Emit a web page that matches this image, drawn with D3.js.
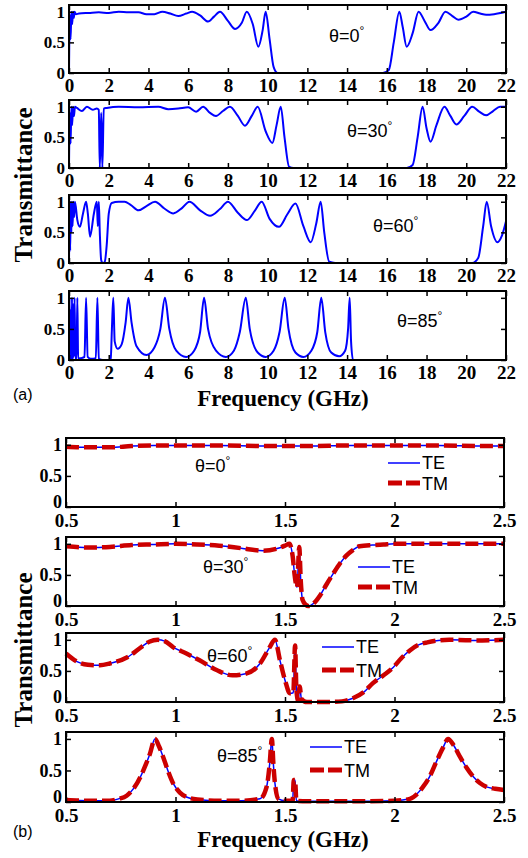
<!DOCTYPE html>
<html>
<head>
<meta charset="utf-8">
<script src="https://cdn.jsdelivr.net/npm/d3@7"></script>
<style>
  body { margin: 0; background: #fff; }
  svg { display: block; }
  .tick text { font-family: "Liberation Serif", "Times New Roman", serif; font-weight: bold; fill: #000; }
  .ann { font-family: "Liberation Sans", Arial, sans-serif; fill: #000; }
</style>
</head>
<body>
<div id="chart"></div>
<script>
// Transmittance vs frequency, panel (a): 0-22 GHz, [GHz, T]
var a0 = [[0,0],[0.04,0.95],[0.08,0.55],[0.12,1],[0.16,0.8],[0.2,1],[0.24,0.9],[0.28,1],[0.35,0.96],[0.5,0.97],[1,0.98],[1.5,0.99],[2,0.98],[2.5,1],[3,0.99],[3.5,0.99],[3.9,0.96],[4.3,0.96],[4.7,1],[5.1,0.97],[5.5,0.93],[5.9,0.97],[6.2,1],[6.6,0.94],[7,0.84],[7.3,0.92],[7.6,1],[8,0.85],[8.36,0.72],[8.7,0.82],[8.95,1],[9.25,0.8],[9.53,0.43],[9.75,0.7],[9.9,1],[10.1,0.55],[10.3,0.1],[10.5,0],[11,0],[12,0],[13,0],[14,0],[15,0],[15.8,0],[16.1,0.05],[16.35,0.5],[16.63,1],[16.8,0.75],[17,0.43],[17.3,0.65],[17.6,1],[17.9,0.85],[18.2,0.7],[18.6,0.82],[18.95,1],[19.3,0.93],[19.6,0.87],[20,0.92],[20.35,1],[20.7,0.97],[21,0.95],[21.4,0.96],[22,1]];
var a30 = [[0,0],[0.04,0.9],[0.08,0.4],[0.12,1],[0.16,0.7],[0.2,1],[0.25,0.85],[0.3,1],[0.4,0.98],[0.65,0.93],[0.9,1],[1.2,0.95],[1.4,0.97],[1.5,0.95],[1.55,0],[1.62,0.9],[1.68,0],[1.75,0.97],[1.9,0.98],[2.5,1],[3.5,0.99],[4.5,1],[5,0.96],[5.5,0.97],[6,0.99],[6.4,0.92],[6.75,1],[7.1,0.9],[7.4,0.85],[7.75,0.93],[8.1,1],[8.5,0.85],[8.86,0.69],[9.2,0.85],[9.5,1],[9.9,0.6],[10.24,0.41],[10.45,0.7],[10.66,1],[10.85,0.5],[11.08,0.02],[11.3,0],[12,0],[14,0],[16,0],[17,0],[17.3,0.05],[17.55,0.5],[17.8,1],[18,0.65],[18.2,0.43],[18.5,0.7],[18.9,1],[19.2,0.85],[19.5,0.71],[19.9,0.85],[20.3,1],[20.65,0.92],[21,0.86],[21.35,0.93],[21.7,1],[22,1]];
var a60 = [[0,0],[0.03,0.8],[0.06,0.2],[0.09,1],[0.12,0.5],[0.15,1],[0.18,0.6],[0.22,1],[0.26,0.75],[0.3,1],[0.42,0.7],[0.55,0.59],[0.7,0.8],[0.86,1],[0.95,0.8],[1.06,0.43],[1.25,0.8],[1.4,1],[1.45,0.6],[1.5,1],[1.55,0.5],[1.62,0.05],[1.7,0],[1.8,0.02],[1.9,0.3],[2,0.8],[2.15,0.98],[2.5,1],[2.8,1],[3.1,0.95],[3.5,0.86],[3.9,0.93],[4.33,1],[4.8,0.89],[5.25,0.81],[5.7,0.9],[6.06,1],[6.6,0.86],[7.1,0.77],[7.6,0.88],[8,1],[8.5,0.82],[8.95,0.7],[9.35,0.85],[9.7,1],[10.1,0.72],[10.57,0.59],[11,0.8],[11.4,0.97],[11.8,0.6],[12.17,0.34],[12.45,0.65],[12.67,1],[12.85,0.5],[13.1,0.02],[13.4,0],[15,0],[17,0],[19,0],[20.3,0],[20.6,0.08],[20.85,0.6],[21.03,1],[21.25,0.6],[21.57,0.34],[21.8,0.45],[22,0.68]];
var a85 = [[0,0],[0.03,1],[0.06,0],[0.09,0.8],[0.12,0],[0.15,1],[0.18,0],[0.21,0.9],[0.24,0.05],[0.28,1],[0.32,0.02],[0.38,0.02],[0.42,1],[0.46,0.02],[0.6,0.03],[0.78,0.05],[0.86,1],[0.94,0.05],[1.1,0.02],[1.35,0.03],[1.43,1],[1.5,0.02],[1.7,0],[2,0],[2.1,0.02],[2.16,0.5],[2.23,1],[2.3,0.3],[2.45,0.18],[2.65,0.25],[2.85,0.6],[2.99,1],[3.15,0.6],[3.4,0.22],[3.9,0.08],[4.3,0.2],[4.6,0.5],[4.83,1],[5.05,0.5],[5.4,0.15],[5.9,0.05],[6.3,0.15],[6.6,0.45],[6.8,1],[7,0.5],[7.4,0.15],[7.9,0.05],[8.3,0.15],[8.6,0.45],[8.9,1],[9.1,0.5],[9.5,0.12],[9.9,0.05],[10.3,0.15],[10.6,0.45],[10.86,1],[11.05,0.5],[11.4,0.12],[11.8,0.05],[12.2,0.15],[12.5,0.45],[12.7,1],[12.9,0.45],[13.2,0.12],[13.6,0.06],[13.9,0.15],[14.05,0.5],[14.13,1],[14.2,0.3],[14.3,0],[16,0],[18,0],[20,0],[22,0]];

// panel (b): 0.5-2.5 GHz, TE and TM overlap
var te0 = [[0.5,0.97],[0.6,0.96],[0.7,0.96],[0.8,0.98],[0.9,0.99],[1,0.99],[1.2,0.99],[1.4,0.98],[1.6,0.98],[1.8,0.99],[2,0.99],[2.2,0.99],[2.4,0.98],[2.5,0.98]];
var te30 = [[0.5,0.96],[0.6,0.94],[0.7,0.95],[0.8,0.98],[0.9,0.99],[1,1],[1.1,0.99],[1.2,0.97],[1.3,0.93],[1.4,0.89],[1.46,0.92],[1.5,0.97],[1.52,1],[1.535,0.8],[1.545,0.47],[1.555,0.3],[1.565,0.95],[1.572,0.4],[1.58,0.1],[1.595,0.02],[1.606,0],[1.63,0.04],[1.66,0.17],[1.69,0.35],[1.72,0.52],[1.75,0.68],[1.78,0.81],[1.81,0.9],[1.84,0.96],[1.9,0.98],[1.95,0.99],[2,1],[2.2,1],[2.5,1]];
var te60 = [[0.5,0.78],[0.55,0.65],[0.6,0.6],[0.655,0.59],[0.7,0.62],[0.78,0.72],[0.85,0.9],[0.88,0.97],[0.92,1],[0.95,0.98],[0.99,0.88],[1.05,0.78],[1.11,0.67],[1.19,0.51],[1.26,0.43],[1.325,0.46],[1.386,0.62],[1.43,0.88],[1.454,1],[1.477,0.67],[1.5,0.35],[1.523,0.14],[1.538,0.15],[1.546,0.91],[1.552,0.2],[1.56,0.02],[1.567,0.25],[1.575,0.05],[1.6,0],[1.7,0],[1.76,0.01],[1.81,0.06],[1.86,0.16],[1.9,0.3],[1.95,0.43],[1.995,0.56],[2.03,0.7],[2.07,0.83],[2.11,0.92],[2.15,0.96],[2.2,0.99],[2.25,1],[2.4,0.99],[2.5,1]];
var te85 = [[0.5,0.03],[0.6,0.02],[0.7,0.02],[0.74,0.05],[0.777,0.1],[0.81,0.22],[0.84,0.4],[0.865,0.6],[0.883,0.76],[0.906,1],[0.925,0.88],[0.944,0.71],[0.965,0.5],[0.99,0.29],[1.02,0.15],[1.05,0.08],[1.1,0.04],[1.2,0.02],[1.3,0.02],[1.386,0.05],[1.416,0.24],[1.43,0.6],[1.44,1],[1.447,0.6],[1.454,0.3],[1.47,0.05],[1.5,0.02],[1.535,0.02],[1.54,0.35],[1.546,0.35],[1.552,0.02],[1.6,0.01],[1.8,0.01],[2,0.02],[2.07,0.05],[2.13,0.24],[2.16,0.4],[2.19,0.63],[2.22,0.85],[2.245,1],[2.27,0.9],[2.3,0.71],[2.33,0.54],[2.36,0.4],[2.39,0.3],[2.42,0.24],[2.46,0.21],[2.5,0.19]];
var tm0 = te0, tm30 = te30, tm60 = te60, tm85 = te85;

var ticksA = [0,2,4,6,8,10,12,14,16,18,20,22];
var ticksB = [0.5,1,1.5,2,2.5];
var ticksY = [0,0.5,1];
var anglesA = ["0","30","60","85"];
var anglesB = ["0","30","60","85"];

var svg = d3.select("#chart").append("svg")
    .attr("width", 528)
    .attr("height", 858);

var line = function (x, y) {
    return d3.line()
        .x(function (d) { return x(d[0]); })
        .y(function (d) { return y(d[1]); })
        .curve(d3.curveMonotoneX);
};

function frame(x, y, xTicks, yFs, xFs, xPad, zeroDy) {
    var g = svg.append("g");
    var r = x.range(), b = y.range();
    g.append("g").attr("transform", "translate(0," + b[0] + ")")
        .call(d3.axisBottom(x).tickValues(xTicks).tickSize(-5).tickSizeOuter(0).tickPadding(xPad).tickFormat(d3.format("")))
        .selectAll("text").style("font-size", xFs + "px");
    g.append("g").attr("transform", "translate(0," + b[1] + ")")
        .call(d3.axisTop(x).tickValues(xTicks).tickSize(-5).tickSizeOuter(0).tickFormat(""));
    g.append("g").attr("transform", "translate(" + r[0] + ",0)")
        .call(d3.axisLeft(y).tickValues(ticksY).tickSize(-5).tickSizeOuter(0).tickPadding(4).tickFormat(d3.format("")))
        .selectAll("text").style("font-size", yFs + "px")
        .attr("dy", function (d) { return d === 0 ? zeroDy : "0.32em"; });
    g.append("g").attr("transform", "translate(" + r[1] + ",0)")
        .call(d3.axisRight(y).tickValues(ticksY).tickSize(-5).tickSizeOuter(0).tickFormat(""));
    g.selectAll(".domain").remove();
    g.selectAll(".tick line").attr("stroke", "#000").attr("stroke-width", 1.5);
    g.append("rect")
        .attr("x", r[0]).attr("y", b[1])
        .attr("width", r[1] - r[0]).attr("height", b[0] - b[1])
        .attr("fill", "none").attr("stroke", "#000").attr("stroke-width", 2);
}

function angleLabel(txt, px, py) {
    var t = svg.append("text").attr("class", "ann")
        .attr("x", px).attr("y", py)
        .style("font-size", "18px")
        .text("\u03b8=" + txt);
    t.append("tspan").attr("dy", -7).style("font-size", "12px").text("\u00b0");
}

// ---------- (a) ----------
var seriesA = [a0, a30, a60, a85];
var topsA = [5, 100, 195, 291];
var botsA = [73, 168, 263, 360];
var labA = [[329, 42], [347, 137], [373, 232], [397, 327]];

seriesA.forEach(function (s, i) {
    var x = d3.scaleLinear().domain([0, 22]).range([69, 506]);
    var y = d3.scaleLinear().domain([0, 1.11]).range([botsA[i], topsA[i]]);
    svg.append("path").datum(s)
        .attr("d", line(x, y))
        .attr("fill", "none").attr("stroke", "#0000ff").attr("stroke-width", 2);
    frame(x, y, ticksA, 17, 19, 6, "0.32em");
    angleLabel(anglesA[i], labA[i][0], labA[i][1]);
});

// ---------- (b) ----------
var teB = [te0, te30, te60, te85];
var tmB = [tm0, tm30, tm60, tm85];
var topsB = [438, 537, 633, 732];
var botsB = [507, 606, 702, 802];
var labB = [[195, 472], [203, 573], [207, 662], [217, 762]];
var legB = [[388, 463, 483], [358, 567, 587], [322, 647, 670], [310, 747, 770]];

teB.forEach(function (s, i) {
    var x = d3.scaleLinear().domain([0.5, 2.5]).range([66, 504]);
    var y = d3.scaleLinear().domain([0, 1.11]).range([botsB[i], topsB[i]]);
    svg.append("path").datum(s)
        .attr("d", line(x, y))
        .attr("fill", "none").attr("stroke", "#0000ff").attr("stroke-width", 1.5);
    svg.append("path").datum(tmB[i])
        .attr("d", line(x, y))
        .attr("fill", "none").attr("stroke", "#cc0000").attr("stroke-width", 4.5)
        .attr("stroke-dasharray", "13,5");
    frame(x, y, ticksB, 18, 19, 7, "0.0em");
    angleLabel(anglesB[i], labB[i][0], labB[i][1]);

    // legend
    var lg = legB[i];
    svg.append("line").attr("x1", lg[0]).attr("x2", lg[0] + 32).attr("y1", lg[1]).attr("y2", lg[1])
        .attr("stroke", "#0000ff").attr("stroke-width", 1.5);
    svg.append("text").attr("class", "ann").attr("x", lg[0] + 34).attr("y", lg[1] + 6)
        .style("font-size", "18px").text("TE");
    svg.append("line").attr("x1", lg[0]).attr("x2", lg[0] + 32).attr("y1", lg[2]).attr("y2", lg[2])
        .attr("stroke", "#cc0000").attr("stroke-width", 5).attr("stroke-dasharray", "14,4");
    svg.append("text").attr("class", "ann").attr("x", lg[0] + 34).attr("y", lg[2] + 7)
        .style("font-size", "18px").text("TM");
});

// axis titles
var serif = "'Liberation Serif', 'Times New Roman', serif";
[[283, 406, "(a)", 400], [283, 847, "(b)", 837]].forEach(function (t) {
    svg.append("text")
        .attr("x", t[0]).attr("y", t[1])
        .attr("text-anchor", "middle")
        .style("font-family", serif).style("font-weight", "bold").style("font-size", "23px")
        .text("Frequency (GHz)");
    svg.append("text").attr("class", "ann")
        .attr("x", 13).attr("y", t[3])
        .style("font-size", "16px").text(t[2]);
});
[185, 650].forEach(function (cy) {
    svg.append("text")
        .attr("transform", "translate(32," + cy + ") rotate(-90)")
        .attr("text-anchor", "middle")
        .style("font-family", serif).style("font-weight", "bold").style("font-size", "25px")
        .text("Transmittance");
});
</script>
</body>
</html>
